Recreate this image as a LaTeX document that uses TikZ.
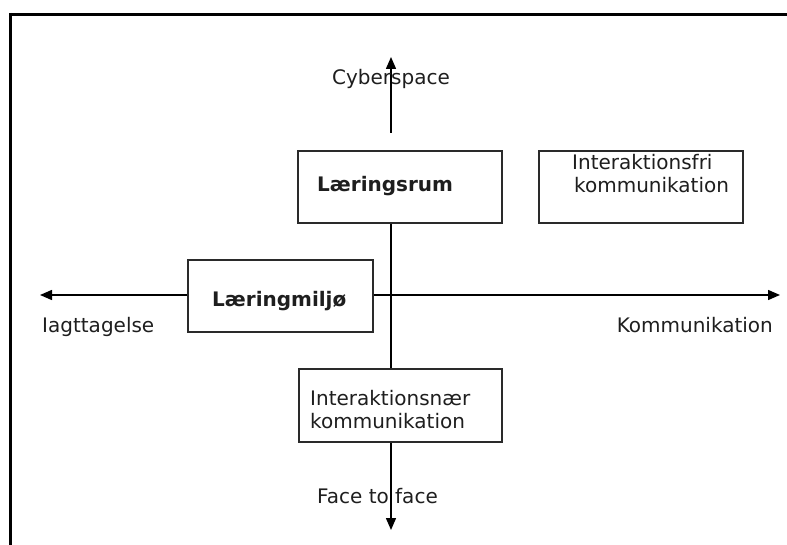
\documentclass[tikz,border=0pt]{standalone}
\usepackage{fontspec}
\setmainfont{DejaVu Sans}
\usetikzlibrary{arrows.meta}
\definecolor{ink}{HTML}{1E1E1E}
\definecolor{edge}{HTML}{2A2A2A}
\tikzset{
  every node/.style={font=\fontsize{20}{24}\selectfont, text=ink},
  frameline/.style={line width=3pt, black},
  axis/.style={line width=1.5pt, black},
  axisarrow/.style={axis, -{Triangle[length=12pt, width=10pt]}},
  box/.style={draw=edge, line width=1.6pt, fill=white, rectangle, inner sep=0pt},
  lbl/.style={inner sep=0pt, anchor=base west},
  bold/.style={lbl, font=\fontsize{20}{24}\selectfont\bfseries}
}
\begin{document}
\begin{tikzpicture}[x=1pt, y=-1pt]
  \useasboundingbox (0,0) rectangle (787,545);

  % page frame (top and left edges)
  \draw[frameline] (9,14.5) -- (787,14.5);
  \draw[frameline] (10.5,13) -- (10.5,545);

  % boxes
  \node[box, minimum width=204pt, minimum height=72pt] (rum)   at (400,187) {};
  \node[box, minimum width=204pt, minimum height=72pt] (fri)   at (641,187) {};
  \node[box, minimum width=185pt, minimum height=72pt] (miljo) at (280.5,296) {};
  \node[box, minimum width=203pt, minimum height=73pt] (naer)  at (400.5,405.5) {};

  % free ends of the axes
  \coordinate (vx)    at (391,0);
  \coordinate (upbeg) at (391,133);
  \coordinate (uptip) at (391,57);
  \coordinate (dntip) at (391,530);
  \coordinate (lftip) at (40,295);
  \coordinate (rttip) at (780,295);

  % axes
  \draw[axisarrow] (upbeg) -- (uptip);
  \draw[axis] (rum.south -| vx) -- (naer.north -| vx);
  \draw[axisarrow] (naer.south -| vx) -- (dntip);
  \draw[axisarrow] (miljo.west |- lftip) -- (lftip);
  \draw[axisarrow] (miljo.east |- rttip) -- (rttip);

  % box texts
  \node[bold] (trum)   at (317,192) {Læringsrum};
  \node[bold] (tmiljo) at (212,307) {Læringmiljø};
  \node[lbl]  (tfri1)  at (572,170) {Interaktionsfri};
  \node[lbl]  (tfri2)  at (574,193) {kommunikation};
  \node[lbl]  (tnaer1) at (310,405) {Interaktionsnær};
  \node[lbl]  (tnaer2) at (310,428) {kommunikation};

  % axis labels
  \node[inner sep=0pt, anchor=base] (cyber) at (391,85) {Cyberspace};
  \node[lbl] (iagt) at (42,332) {Iagttagelse};
  \node[inner sep=0pt, anchor=base east] (komm) at (773,332) {Kommunikation};
  \node[lbl] (face) at (317,503) {Face to face};
\end{tikzpicture}
\end{document}
